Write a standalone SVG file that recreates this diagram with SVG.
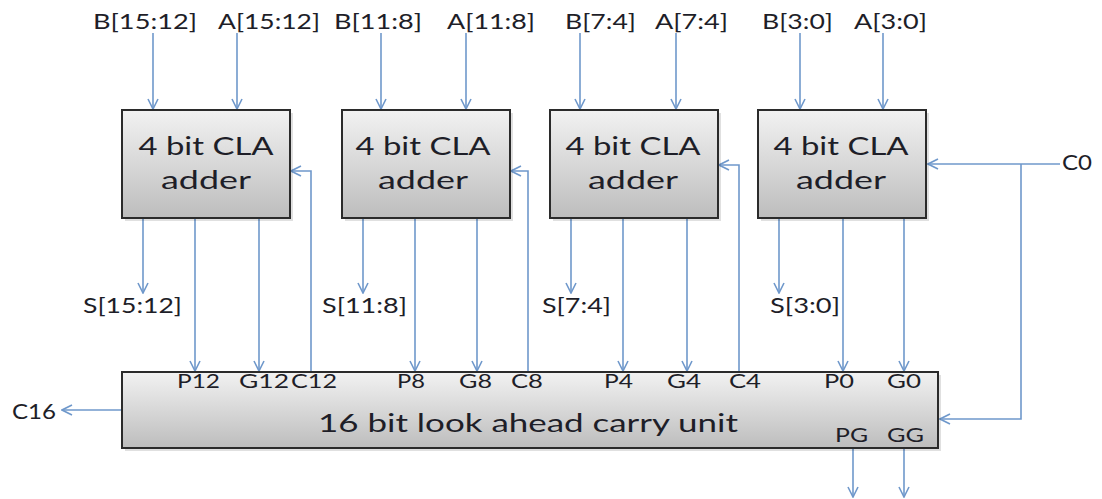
<svg xmlns="http://www.w3.org/2000/svg" width="1102" height="499" viewBox="0 0 1102 499">
  <defs>
    <linearGradient id="boxFill" x1="0" y1="0" x2="0" y2="1">
      <stop offset="0" stop-color="#f2f2f2"/>
      <stop offset="1" stop-color="#bdbdbd"/>
    </linearGradient>
    <marker id="arrow" viewBox="0 0 12 12" refX="11" refY="6" markerWidth="12" markerHeight="12" markerUnits="userSpaceOnUse" orient="auto">
      <path d="M1,1 L11,6 L1,11" fill="none" stroke="#6f98cb" stroke-width="1.6"/>
    </marker>
  </defs>
  <style>
    .box { fill: url(#boxFill); stroke: #2b2b2b; stroke-width: 2; }
    .shadow { fill: #000; opacity: 0.12; }
    .wire { fill: none; stroke: #6f98cb; stroke-width: 1.6; }
    .arr { marker-end: url(#arrow); }
    text { font-family: Lato, "Open Sans", "Liberation Sans", sans-serif; fill: #1e1e28; }
    .lbl { font-size: 21px; }
    .pin { font-size: 19px; }
    .title { font-size: 25px; text-anchor: middle; }
  </style>

  <rect width="1102" height="499" fill="#ffffff"/>

  <!-- connectors -->
  <g id="connectors">
    <!-- operand inputs -->
    <line class="wire arr" x1="153" y1="33" x2="153" y2="109"/>
    <line class="wire arr" x1="237" y1="33" x2="237" y2="109"/>
    <line class="wire arr" x1="381" y1="33" x2="381" y2="109"/>
    <line class="wire arr" x1="466" y1="33" x2="466" y2="109"/>
    <line class="wire arr" x1="580" y1="33" x2="580" y2="109"/>
    <line class="wire arr" x1="676" y1="33" x2="676" y2="109"/>
    <line class="wire arr" x1="800" y1="33" x2="800" y2="109"/>
    <line class="wire arr" x1="883" y1="33" x2="883" y2="109"/>
    <!-- sum outputs -->
    <line class="wire arr" x1="143" y1="219" x2="143" y2="293"/>
    <line class="wire arr" x1="363" y1="219" x2="363" y2="293"/>
    <line class="wire arr" x1="571" y1="219" x2="571" y2="293"/>
    <line class="wire arr" x1="779" y1="219" x2="779" y2="293"/>
    <!-- propagate / generate into carry unit -->
    <line class="wire arr" x1="195" y1="219" x2="195" y2="371"/>
    <line class="wire arr" x1="259" y1="219" x2="259" y2="371"/>
    <line class="wire arr" x1="415" y1="219" x2="415" y2="371"/>
    <line class="wire arr" x1="477" y1="219" x2="477" y2="371"/>
    <line class="wire arr" x1="623" y1="219" x2="623" y2="371"/>
    <line class="wire arr" x1="687" y1="219" x2="687" y2="371"/>
    <line class="wire arr" x1="843" y1="219" x2="843" y2="371"/>
    <line class="wire arr" x1="904" y1="219" x2="904" y2="371"/>
    <!-- carries back to the adders -->
    <polyline class="wire arr" points="311,372 311,171 291,171"/>
    <polyline class="wire arr" points="528,372 528,171 511,171"/>
    <polyline class="wire arr" points="739,372 739,165 719,165"/>
    <!-- carry in -->
    <line class="wire arr" x1="1060" y1="164" x2="928" y2="164"/>
    <polyline class="wire arr" points="1021,164 1021,419 940,419"/>
    <!-- carry out and group signals -->
    <line class="wire arr" x1="122" y1="410" x2="62" y2="410"/>
    <line class="wire arr" x1="853" y1="449" x2="853" y2="497"/>
    <line class="wire arr" x1="904" y1="449" x2="904" y2="497"/>
  </g>

  <!-- input labels -->
  <g id="inputs">
    <text class="lbl" x="93" y="29" textLength="104" lengthAdjust="spacingAndGlyphs">B[15:12]</text>
    <text class="lbl" x="218" y="29" textLength="102" lengthAdjust="spacingAndGlyphs">A[15:12]</text>
    <text class="lbl" x="334" y="29" textLength="88" lengthAdjust="spacingAndGlyphs">B[11:8]</text>
    <text class="lbl" x="447" y="29" textLength="88" lengthAdjust="spacingAndGlyphs">A[11:8]</text>
    <text class="lbl" x="565" y="29" textLength="71" lengthAdjust="spacingAndGlyphs">B[7:4]</text>
    <text class="lbl" x="655" y="29" textLength="73" lengthAdjust="spacingAndGlyphs">A[7:4]</text>
    <text class="lbl" x="762" y="29" textLength="71" lengthAdjust="spacingAndGlyphs">B[3:0]</text>
    <text class="lbl" x="854" y="29" textLength="73" lengthAdjust="spacingAndGlyphs">A[3:0]</text>
    <text class="lbl" x="1062" y="170" textLength="30" lengthAdjust="spacingAndGlyphs">C0</text>
  </g>

  <!-- adder blocks -->
  <g id="cla3">
    <rect class="shadow" x="125" y="113" width="168" height="108"/>
    <rect class="box" x="122" y="110" width="168" height="108"/>
    <text class="title" x="206" y="155" textLength="135" lengthAdjust="spacingAndGlyphs">4 bit CLA</text>
    <text class="title" x="206" y="189" textLength="90" lengthAdjust="spacingAndGlyphs">adder</text>
  </g>
  <g id="cla2">
    <rect class="shadow" x="345" y="113" width="168" height="108"/>
    <rect class="box" x="342" y="110" width="168" height="108"/>
    <text class="title" x="423" y="155" textLength="135" lengthAdjust="spacingAndGlyphs">4 bit CLA</text>
    <text class="title" x="423" y="189" textLength="90" lengthAdjust="spacingAndGlyphs">adder</text>
  </g>
  <g id="cla1">
    <rect class="shadow" x="553" y="113" width="168" height="108"/>
    <rect class="box" x="550" y="110" width="168" height="108"/>
    <text class="title" x="633" y="155" textLength="135" lengthAdjust="spacingAndGlyphs">4 bit CLA</text>
    <text class="title" x="633" y="189" textLength="90" lengthAdjust="spacingAndGlyphs">adder</text>
  </g>
  <g id="cla0">
    <rect class="shadow" x="761" y="113" width="168" height="108"/>
    <rect class="box" x="758" y="110" width="168" height="108"/>
    <text class="title" x="841" y="155" textLength="135" lengthAdjust="spacingAndGlyphs">4 bit CLA</text>
    <text class="title" x="841" y="189" textLength="90" lengthAdjust="spacingAndGlyphs">adder</text>
  </g>

  <!-- sum labels -->
  <g id="sums">
    <text class="lbl" x="83" y="313" textLength="99" lengthAdjust="spacingAndGlyphs">S[15:12]</text>
    <text class="lbl" x="322" y="313" textLength="85" lengthAdjust="spacingAndGlyphs">S[11:8]</text>
    <text class="lbl" x="542" y="313" textLength="69" lengthAdjust="spacingAndGlyphs">S[7:4]</text>
    <text class="lbl" x="770" y="313" textLength="70" lengthAdjust="spacingAndGlyphs">S[3:0]</text>
  </g>

  <!-- carry lookahead unit -->
  <g id="lcu">
    <rect class="shadow" x="125" y="375" width="816" height="76"/>
    <rect class="box" x="122" y="372" width="816" height="76"/>
    <text class="pin" x="177" y="388" textLength="43" lengthAdjust="spacingAndGlyphs">P12</text>
    <text class="pin" x="239" y="388" textLength="50" lengthAdjust="spacingAndGlyphs">G12</text>
    <text class="pin" x="291" y="388" textLength="46" lengthAdjust="spacingAndGlyphs">C12</text>
    <text class="pin" x="397" y="388" textLength="28" lengthAdjust="spacingAndGlyphs">P8</text>
    <text class="pin" x="459" y="388" textLength="33" lengthAdjust="spacingAndGlyphs">G8</text>
    <text class="pin" x="511" y="388" textLength="32" lengthAdjust="spacingAndGlyphs">C8</text>
    <text class="pin" x="604" y="388" textLength="29" lengthAdjust="spacingAndGlyphs">P4</text>
    <text class="pin" x="667" y="388" textLength="34" lengthAdjust="spacingAndGlyphs">G4</text>
    <text class="pin" x="729" y="388" textLength="32" lengthAdjust="spacingAndGlyphs">C4</text>
    <text class="pin" x="824" y="388" textLength="30" lengthAdjust="spacingAndGlyphs">P0</text>
    <text class="pin" x="887" y="388" textLength="34" lengthAdjust="spacingAndGlyphs">G0</text>
    <text class="title" x="528" y="432" textLength="420" lengthAdjust="spacingAndGlyphs">16 bit look ahead carry unit</text>
    <text class="pin" x="835" y="442" textLength="33" lengthAdjust="spacingAndGlyphs">PG</text>
    <text class="pin" x="887" y="442" textLength="37" lengthAdjust="spacingAndGlyphs">GG</text>
  </g>

  <!-- carry out label -->
  <g id="carry-out">
    <text class="lbl" x="12" y="419" textLength="44" lengthAdjust="spacingAndGlyphs">C16</text>
  </g>
</svg>
